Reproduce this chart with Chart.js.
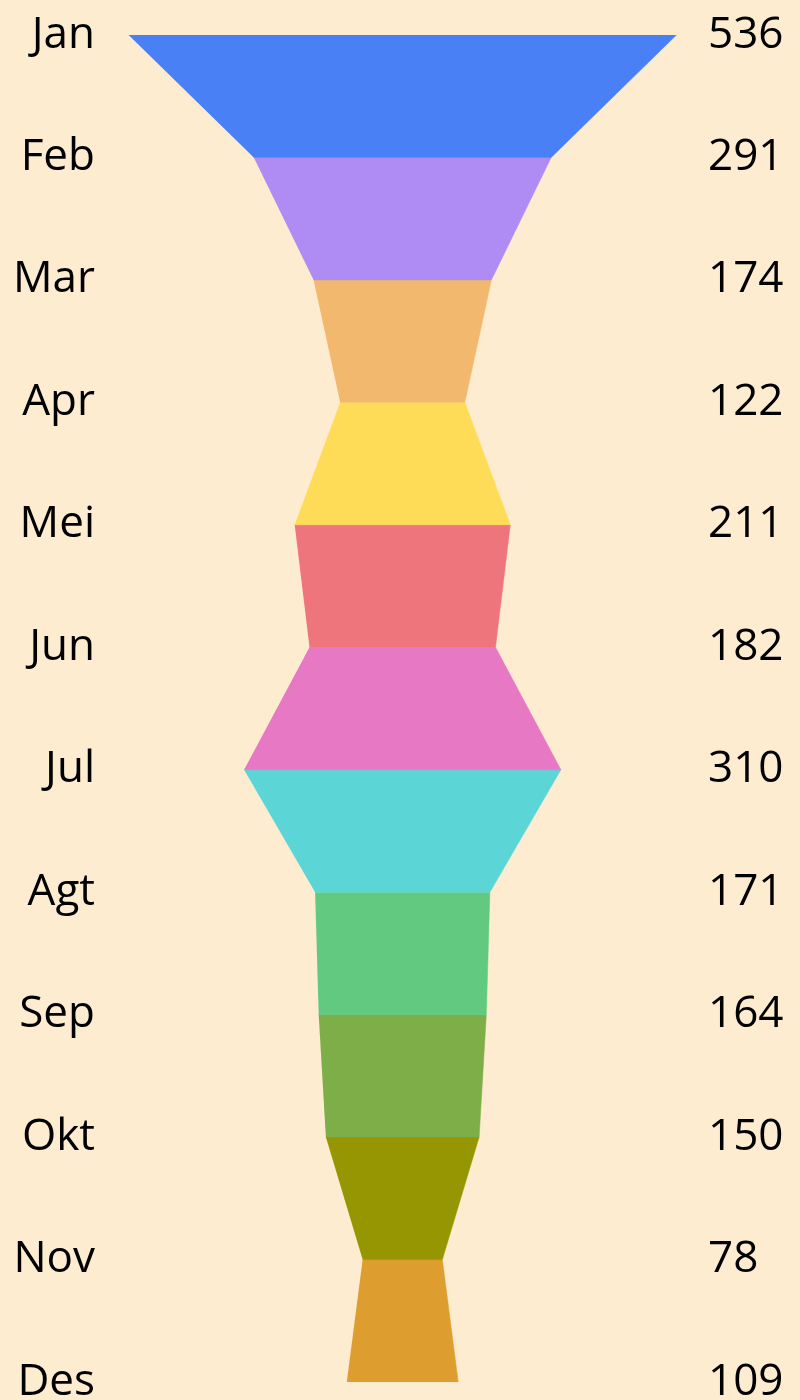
<!DOCTYPE html>
<html>
<head>
<meta charset="utf-8">
<script src="https://cdn.jsdelivr.net/npm/chart.js@4/dist/chart.umd.min.js"></script>
<style>
  html, body { margin: 0; padding: 0; background: #fdecd0; }
  #wrap { width: 800px; height: 1400px; }
</style>
</head>
<body>
<div id="wrap"><canvas id="funnel"></canvas></div>
<script>
const MONTHS = ['Jan', 'Feb', 'Mar', 'Apr', 'Mei', 'Jun', 'Jul', 'Agt', 'Sep', 'Okt', 'Nov', 'Des'];
const VALUES = [536, 291, 174, 122, 211, 182, 310, 171, 164, 150, 78, 109];
const COLORS = ['#4a80f6', '#ae8cf4', '#f2b96e', '#ffdc58', '#ef757c', '#e779c4',
  '#5cd5d6', '#62c981', '#7eae48', '#969602', '#de9e2f'];

const LABEL_FONT = { family: '"Open Sans", sans-serif', size: 44 };

// one trapezoid per pair of neighbouring months
const datasets = COLORS.map((color, i) => ({
  data: [
    { x: -VALUES[i] / 2, y: i },
    { x: VALUES[i] / 2, y: i },
    { x: VALUES[i + 1] / 2, y: i + 1 },
    { x: -VALUES[i + 1] / 2, y: i + 1 }
  ],
  backgroundColor: color,
  borderColor: color,
  borderWidth: 0.5,
  pointRadius: 0,
  fill: 'shape',
  tension: 0
}));

function fixAxis(width) {
  return (scale) => {
    scale.width = width;
    scale.paddingTop = 0;
    scale.paddingBottom = 0;
  };
}

new Chart(document.getElementById('funnel'), {
  type: 'line',
  data: { datasets },
  options: {
    responsive: true,
    maintainAspectRatio: false,
    animation: false,
    layout: { padding: { top: 35, bottom: 18, left: 0, right: 0 } },
    scales: {
      x: {
        type: 'linear',
        display: false,
        min: -286.2,
        max: 281.3
      },
      y: {
        type: 'linear',
        position: 'left',
        reverse: true,
        min: 0,
        max: 11,
        grid: { display: false, drawTicks: false },
        border: { display: false },
        afterFit: fixAxis(110),
        ticks: {
          stepSize: 1,
          padding: 15,
          color: '#000',
          font: LABEL_FONT,
          callback: (v) => MONTHS[v]
        }
      },
      y2: {
        type: 'linear',
        position: 'right',
        reverse: true,
        min: 0,
        max: 11,
        grid: { display: false, drawTicks: false },
        border: { display: false },
        afterFit: fixAxis(110),
        ticks: {
          stepSize: 1,
          padding: 18,
          color: '#000',
          font: LABEL_FONT,
          callback: (v) => VALUES[v]
        }
      }
    },
    plugins: {
      legend: { display: false },
      tooltip: { enabled: false }
    }
  }
});
</script>
</body>
</html>
